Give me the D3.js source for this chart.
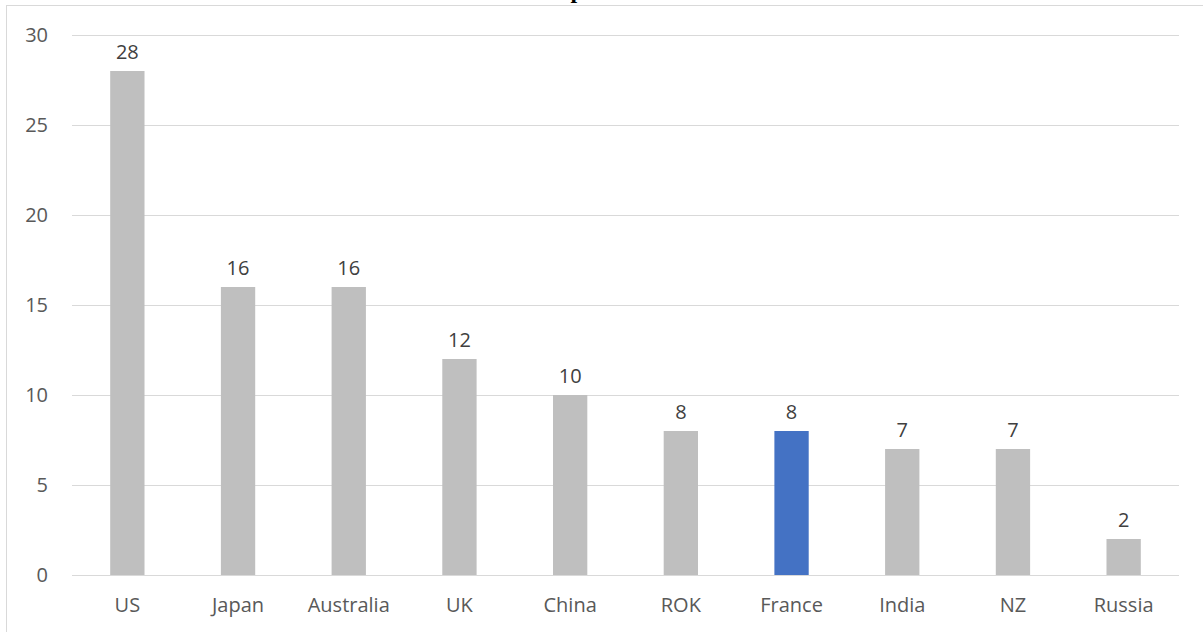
<!DOCTYPE html>
<html>
<head>
<meta charset="utf-8">
<script src="https://cdn.jsdelivr.net/npm/d3@7"></script>
<style>
  body { margin: 0; background: #fff; }
  svg text { font-family: "Open Sans", "Noto Sans", sans-serif; fill: #595959; }
</style>
</head>
<body>
<svg id="chart" width="1203" height="632"></svg>
<script>
var categories = ['US', 'Japan', 'Australia', 'UK', 'China', 'ROK', 'France', 'India', 'NZ', 'Russia'];
var values = [28, 16, 16, 12, 10, 8, 8, 7, 7, 2];
var highlighted = ['France'];
var yTicks = [0, 5, 10, 15, 20, 25, 30];
var title = 'Top Partners';

var svg = d3.select('#chart');
var margin = { left: 72, right: 24, top: 35, bottom: 57 };
var width = 1203, height = 632;

// chart frame, cropped at right and bottom like the reference
svg.append('rect')
  .attr('x', 6.5).attr('y', 5.5)
  .attr('width', 1250).attr('height', 700)
  .attr('fill', 'none')
  .attr('stroke', '#d9d9d9');

// title sits mostly above the visible area
svg.append('text')
  .attr('x', 612).attr('y', -2)
  .attr('text-anchor', 'middle')
  .style('font-family', '"Liberation Serif", "Times New Roman", serif')
  .style('font-weight', 'bold')
  .style('font-size', '24px')
  .style('fill', '#000')
  .text(title);

var x = d3.scaleBand()
  .domain(categories)
  .range([margin.left, width - margin.right])
  .paddingInner(0.69)
  .paddingOuter(0.345);

var y = d3.scaleLinear()
  .domain([0, 30])
  .range([height - margin.bottom, margin.top]);

// gridlines
svg.append('g')
  .selectAll('line')
  .data(yTicks)
  .join('line')
  .attr('x1', margin.left)
  .attr('x2', width - margin.right)
  .attr('y1', d => Math.round(y(d)) + 0.5)
  .attr('y2', d => Math.round(y(d)) + 0.5)
  .attr('stroke', '#d9d9d9')
  .attr('stroke-width', 1);

// y tick labels
svg.append('g')
  .selectAll('text')
  .data(yTicks)
  .join('text')
  .attr('x', 48)
  .attr('y', d => y(d))
  .attr('dy', '0.35em')
  .attr('text-anchor', 'end')
  .style('font-size', '20px')
  .text(d => d);

// bars
svg.append('g')
  .selectAll('rect')
  .data(values)
  .join('rect')
  .attr('x', (d, i) => x(categories[i]))
  .attr('y', d => y(d))
  .attr('width', x.bandwidth())
  .attr('height', d => y(0) - y(d))
  .attr('fill', (d, i) => highlighted.includes(categories[i]) ? '#4472c4' : '#bfbfbf');

// data labels
svg.append('g')
  .selectAll('text')
  .data(values)
  .join('text')
  .attr('x', (d, i) => x(categories[i]) + x.bandwidth() / 2)
  .attr('y', d => y(d) - 12)
  .attr('text-anchor', 'middle')
  .style('font-size', '20px')
  .style('fill', '#404040')
  .text(d => d);

// category labels
svg.append('g')
  .selectAll('text')
  .data(categories)
  .join('text')
  .attr('x', d => x(d) + x.bandwidth() / 2)
  .attr('y', 612)
  .attr('text-anchor', 'middle')
  .style('font-size', '20px')
  .text(d => d);
</script>
</body>
</html>
